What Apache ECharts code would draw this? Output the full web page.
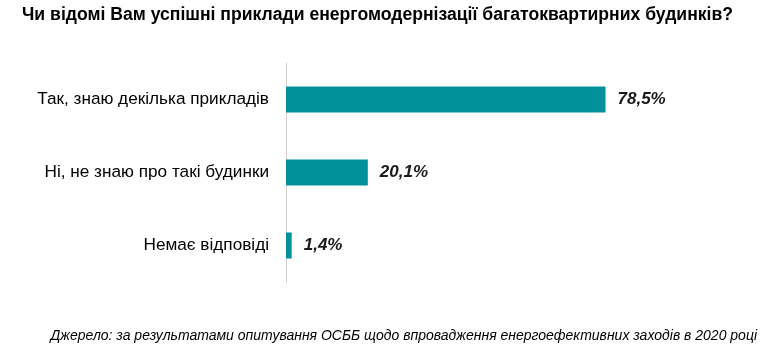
<!DOCTYPE html>
<html>
<head>
<meta charset="utf-8">
<script src="https://cdn.jsdelivr.net/npm/echarts@6/dist/echarts.min.js"></script>
<style>
  html, body { margin: 0; padding: 0; background: #fff; }
  #main { width: 770px; height: 351px; }
</style>
</head>
<body>
<div id="main"></div>
<script>
var categories = ['Так, знаю декілька прикладів', 'Ні, не знаю про такі будинки', 'Немає відповіді'];
var values = [78.5, 20.1, 1.4];

var myChart = echarts.init(document.getElementById('main'));

myChart.setOption({
    animation: false,
    title: [
        {
            text: 'Чи відомі Вам успішні приклади енергомодернізації багатоквартирних будинків?',
            left: 17,
            top: 1,
            textStyle: { fontFamily: 'Liberation Sans', fontSize: 17.6, fontWeight: 'bold', color: '#000' }
        },
        {
            text: 'Джерело: за результатами опитування ОСББ щодо впровадження енергоефективних заходів в 2020 році',
            right: 8,
            top: 324,
            textStyle: { fontFamily: 'Liberation Sans', fontSize: 14, fontStyle: 'italic', fontWeight: 'normal', color: '#000' }
        }
    ],
    grid: { left: 286, right: 77, top: 63, bottom: 69, containLabel: false },
    xAxis: {
        type: 'value',
        min: 0,
        max: 100,
        show: false
    },
    yAxis: {
        type: 'category',
        data: categories,
        inverse: true,
        axisLine: { show: true, lineStyle: { color: '#d0d0d0', width: 1 } },
        axisTick: { show: false },
        axisLabel: { margin: 17, fontFamily: 'Liberation Sans', fontSize: 17.2, color: '#000' }
    },
    series: [
        {
            type: 'bar',
            data: values,
            barWidth: 26,
            itemStyle: { color: '#00919b' },
            label: {
                show: true,
                position: 'right',
                distance: 12,
                formatter: function (p) { return String(p.value.toFixed(1)).replace('.', ',') + '%'; },
                fontFamily: 'Liberation Sans',
                fontSize: 17,
                fontWeight: 'bold',
                fontStyle: 'italic',
                color: '#1a1a1a'
            }
        }
    ]
});
</script>
</body>
</html>
